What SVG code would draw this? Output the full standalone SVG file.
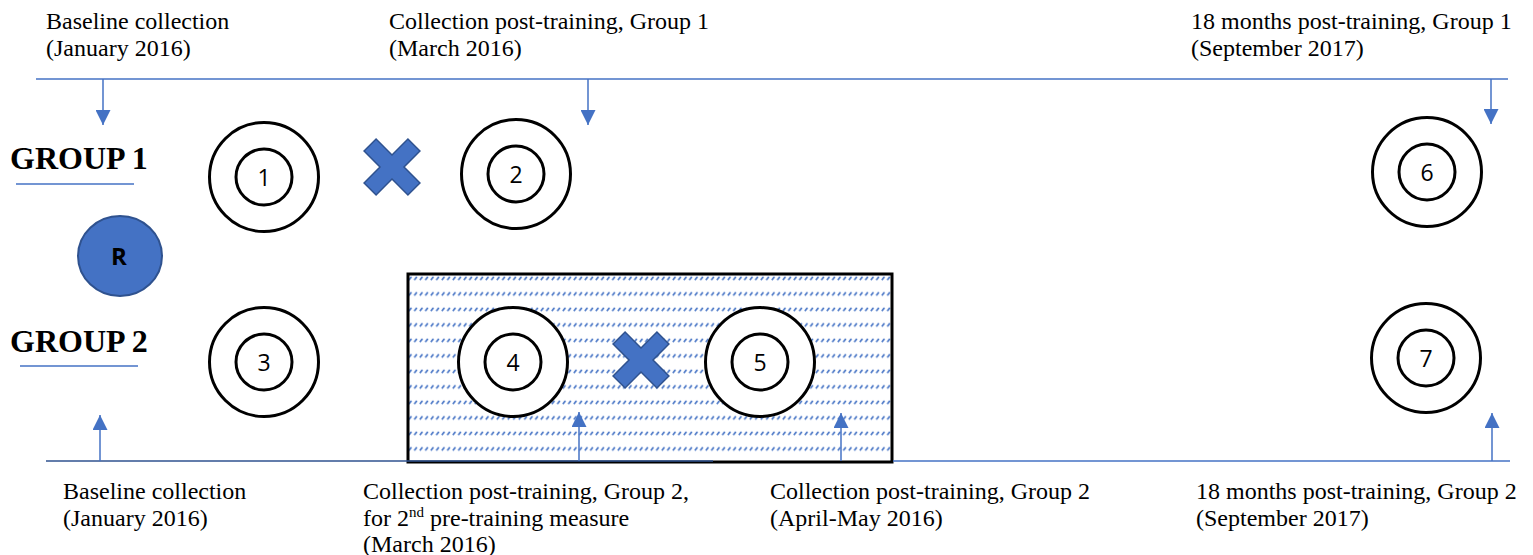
<svg xmlns="http://www.w3.org/2000/svg" width="1533" height="555" viewBox="0 0 1533 555">
<style>
.lbl{font-family:"Liberation Serif","Times New Roman",serif;font-size:24px;fill:#000}
.grp{font-family:"Liberation Serif","Times New Roman",serif;font-size:32px;font-weight:bold;fill:#000}
.num{font-family:"Open Sans","Noto Sans",sans-serif;font-size:23px;fill:#000;text-anchor:middle}
.ring{fill:#fff;stroke:#000;stroke-width:3}
.tl{stroke:#4472C4;stroke-width:1.5;fill:none}
.arr{stroke:#4472C4;stroke-width:1.5;fill:none;marker-end:url(#ah)}
.x{fill:#4472C4;stroke:#2F528F;stroke-width:1.5}
</style>
<defs>
<marker id="ah" viewBox="0 0 10 10" refX="10" refY="5" markerUnits="userSpaceOnUse" markerWidth="15" markerHeight="15" orient="auto">
<path d="M0,0 L10,5 L0,10 Z" fill="#4472C4"/>
</marker>
<pattern id="hatch" patternUnits="userSpaceOnUse" x="408" y="274" width="5.5" height="15.5">
<line x1="0.8" y1="6" x2="3.4" y2="2.8" stroke="#4472C4" stroke-width="1.6"/>
</pattern>
<g id="ringdef">
<circle class="ring" r="54.5"/>
<circle class="ring" r="28"/>
</g>
</defs>

<g id="connectors">
<line class="tl" x1="36" y1="79" x2="1508" y2="79"/>
<line class="arr" x1="103" y1="79" x2="103" y2="125"/>
<line class="arr" x1="588" y1="79" x2="588" y2="125"/>
<line class="arr" x1="1491" y1="79" x2="1491" y2="124"/>
</g>

<g id="box">
<rect x="408" y="274" width="484" height="188" fill="url(#hatch)" stroke="#000" stroke-width="3"/>
</g>

<g id="connectors-bottom">
<line class="tl" x1="46" y1="461" x2="713" y2="461" style="stroke:#2F528F"/>
<line class="tl" x1="893" y1="461" x2="1510" y2="461"/>
<line class="arr" x1="100" y1="461" x2="100" y2="415"/>
<line class="arr" x1="579" y1="461" x2="579" y2="412"/>
<line class="arr" x1="841" y1="461" x2="841" y2="413"/>
<line class="arr" x1="1492" y1="461" x2="1492" y2="413"/>
</g>

<g id="group1-label">
<text class="grp" x="10" y="169">GROUP 1</text>
<line class="tl" x1="16" y1="184" x2="134" y2="184"/>
</g>
<g id="group2-label">
<text class="grp" x="10" y="352">GROUP 2</text>
<line class="tl" x1="20" y1="366" x2="138" y2="366"/>
</g>

<g id="R">
<ellipse cx="120" cy="256" rx="42" ry="40" fill="#4472C4" stroke="#2F528F" stroke-width="2"/>
<text x="119" y="264.5" style="font-family:'Open Sans','Noto Sans',sans-serif;font-size:24px;font-weight:bold;text-anchor:middle">R</text>
</g>

<g id="n1"><use href="#ringdef" x="264" y="177"/><text class="num" x="264" y="185.5">1</text></g>
<g id="n2"><use href="#ringdef" x="516" y="174"/><text class="num" x="516" y="182.5">2</text></g>
<g id="n6"><use href="#ringdef" x="1427" y="172"/><text class="num" x="1427" y="180.5">6</text></g>
<g id="n3"><use href="#ringdef" x="264" y="362"/><text class="num" x="264" y="370.5">3</text></g>
<g id="n4"><use href="#ringdef" x="513" y="362"/><text class="num" x="513" y="370.5">4</text></g>
<g id="n5"><use href="#ringdef" x="760" y="362"/><text class="num" x="760" y="370.5">5</text></g>
<g id="n7"><use href="#ringdef" x="1426" y="358"/><text class="num" x="1426" y="366.5">7</text></g>

<g id="x1" transform="translate(392,167) rotate(45)">
<polygon class="x" points="-8.5,-31 8.5,-31 8.5,-8.5 31,-8.5 31,8.5 8.5,8.5 8.5,31 -8.5,31 -8.5,8.5 -31,8.5 -31,-8.5 -8.5,-8.5"/>
</g>
<g id="x2" transform="translate(641,360) rotate(45)">
<polygon class="x" points="-8.5,-31 8.5,-31 8.5,-8.5 31,-8.5 31,8.5 8.5,8.5 8.5,31 -8.5,31 -8.5,8.5 -31,8.5 -31,-8.5 -8.5,-8.5"/>
</g>

<g id="top-labels">
<text class="lbl" x="46" y="29">Baseline collection</text>
<text class="lbl" x="46" y="56">(January 2016)</text>
<text class="lbl" x="389" y="29">Collection post-training, Group 1</text>
<text class="lbl" x="389" y="56">(March 2016)</text>
<text class="lbl" x="1191" y="29">18 months post-training, Group 1</text>
<text class="lbl" x="1191" y="56">(September 2017)</text>
</g>
<g id="bottom-labels">
<text class="lbl" x="63" y="499">Baseline collection</text>
<text class="lbl" x="63" y="526">(January 2016)</text>
<text class="lbl" x="363" y="499">Collection post-training, Group 2,</text>
<text class="lbl" x="363" y="526">for 2<tspan font-size="15" dy="-9">nd</tspan><tspan dy="9"> pre-training measure</tspan></text>
<text class="lbl" x="363" y="552">(March 2016)</text>
<text class="lbl" x="770" y="499">Collection post-training, Group 2</text>
<text class="lbl" x="770" y="526">(April-May 2016)</text>
<text class="lbl" x="1196" y="499">18 months post-training, Group 2</text>
<text class="lbl" x="1196" y="526">(September 2017)</text>
</g>
</svg>
